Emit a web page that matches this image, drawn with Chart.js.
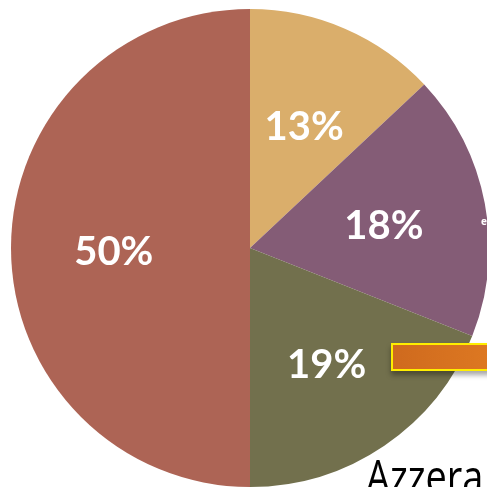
<!DOCTYPE html>
<html>
<head>
<meta charset="utf-8">
<script src="https://cdn.jsdelivr.net/npm/chart.js@4/dist/chart.umd.min.js"></script>
<style>
  html, body { margin: 0; padding: 0; width: 487px; height: 487px; overflow: hidden; background: #fff; }
  #pieChart { position: absolute; left: 11px; top: 9px; }
  .bar {
    position: absolute; left: 391px; top: 343px; width: 110px; height: 24px;
    background: linear-gradient(to right, #cf6a1e, #df7a22);
    border: 2px solid #ffee00;
    box-shadow: 0 4px 5px rgba(0,0,0,0.35);
  }
  .azzera {
    position: absolute; left: 366px; top: 452px;
    font-family: "Open Sans", sans-serif; font-size: 48px; color: #000; line-height: 1;
    transform: scaleX(0.79); transform-origin: left top; white-space: nowrap;
  }
  .tiny {
    position: absolute; left: 481px; top: 214px;
    font-family: "Open Sans", sans-serif; font-size: 10px; font-weight: bold; color: #fff;
  }
</style>
</head>
<body>
<canvas id="pieChart" width="478" height="478"></canvas>
<div class="tiny">e</div>
<div class="bar"></div>
<div class="azzera">Azzera</div>
<script>
// Slice data, clockwise from the top
const labels = ['A', 'B', 'C', 'D'];
const values = [13, 18, 19, 50];
const colors = ['#daae6b', '#845c76', '#72704d', '#ad6455'];

// Draw the percent labels inside each slice
const sliceLabels = {
  id: 'sliceLabels',
  afterDatasetsDraw(chart) {
    const ctx = chart.ctx;
    const meta = chart.getDatasetMeta(0);
    ctx.save();
    ctx.fillStyle = '#ffffff';
    ctx.font = 'bold 40px Lato, "Open Sans", sans-serif';
    ctx.textAlign = 'center';
    ctx.textBaseline = 'middle';
    meta.data.forEach((arc, i) => {
      const p = arc.getProps(['x', 'y', 'startAngle', 'endAngle', 'outerRadius'], true);
      const mid = (p.startAngle + p.endAngle) / 2;
      const r = p.outerRadius * 0.57;
      ctx.fillText(values[i] + '%', p.x + Math.cos(mid) * r, p.y + Math.sin(mid) * r + 4);
    });
    ctx.restore();
  }
};

new Chart(document.getElementById('pieChart').getContext('2d'), {
  type: 'pie',
  data: {
    labels: labels,
    datasets: [{
      data: values,
      backgroundColor: colors,
      borderWidth: 0
    }]
  },
  options: {
    responsive: false,
    animation: false,
    events: [],
    layout: { padding: 0 },
    plugins: {
      legend: { display: false },
      tooltip: { enabled: false }
    }
  },
  plugins: [sliceLabels]
});
</script>
</body>
</html>
